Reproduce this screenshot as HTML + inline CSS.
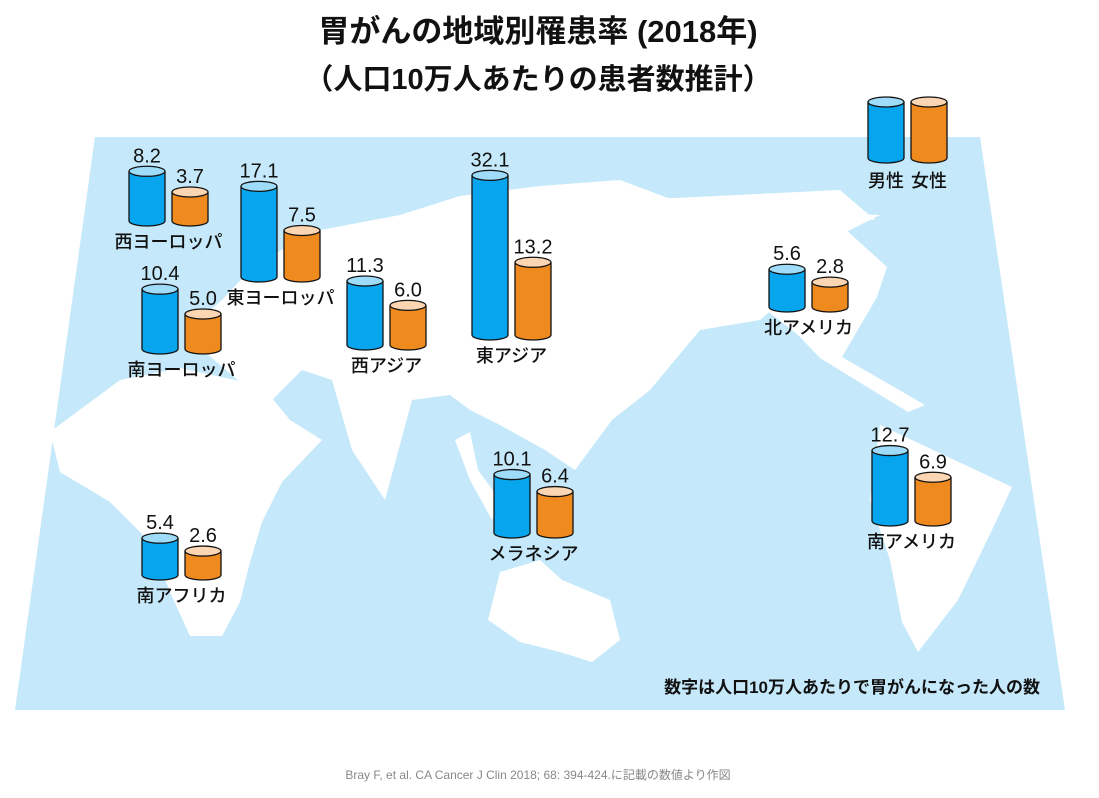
<!DOCTYPE html>
<html><head><meta charset="utf-8"><style>
html,body{margin:0;padding:0;background:#fff;}
svg{display:block;font-family:"Liberation Sans","Noto Sans CJK JP",sans-serif;}
</style></head><body>
<svg id="chart" width="1099" height="798" viewBox="0 0 1099 798" xmlns="http://www.w3.org/2000/svg">
<text x="538" y="42" text-anchor="middle" font-size="31" font-weight="bold" fill="#111">胃がんの地域別罹患率 (2018年)</text>
<text x="538" y="89" text-anchor="middle" font-size="29" font-weight="bold" fill="#111">（人口10万人あたりの患者数推計）</text>
<g>
<polygon points="95,137 980,137 1065,710 15,710" fill="#c5e9fa"/>
<polygon fill="#fff" points="250,270 310,232 400,215 460,196 540,186 620,180 700,210 780,212 880,215 830,240 805,255 795,290 760,320 700,330 650,390 612,420 575,470 545,450 500,425 470,410 450,395 412,400 385,500 352,450 332,380 302,370 272,400 240,382 205,352 188,330 222,300"/>
<polygon fill="#fff" points="633,200 840,190 875,220 833,218 887,267 877,297 842,357 925,405 908,412 820,358 798,335 760,305 738,265 718,250 648,236"/>
<polygon fill="#fff" points="880,425 1012,487 992,530 958,600 918,652 902,622 890,560 870,500"/>
<polygon fill="#fff" points="120,380 180,368 262,386 290,420 322,440 282,482 262,522 250,562 240,602 222,636 190,636 170,592 150,542 110,502 60,472 50,432"/>
<polygon fill="#fff" points="500,572 540,560 562,580 610,600 620,640 592,662 560,652 520,642 488,620"/>
<polygon fill="#fff" points="455,440 470,432 478,470 500,500 492,520 470,480"/>
</g>
<g id="bars"></g>
<g>
<path d="M868,102 v56 a18,5 0 0 0 36,0 v-56" fill="#08a5ef" stroke="#111" stroke-width="1.3"/>
<ellipse cx="886" cy="102" rx="18" ry="5" fill="#9edcfa" stroke="#111" stroke-width="1.3"/>
<path d="M911,102 v56 a18,5 0 0 0 36,0 v-56" fill="#ef8a1f" stroke="#111" stroke-width="1.3"/>
<ellipse cx="929" cy="102" rx="18" ry="5" fill="#fcd6b2" stroke="#111" stroke-width="1.3"/>
<text x="886" y="187" text-anchor="middle" font-size="18" font-weight="500" fill="#111">男性</text>
<text x="929" y="187" text-anchor="middle" font-size="18" font-weight="500" fill="#111">女性</text>
</g>
<text x="1040" y="693" text-anchor="end" font-size="17" font-weight="bold" fill="#111">数字は人口10万人あたりで胃がんになった人の数</text>
<text x="538" y="779" text-anchor="middle" font-size="12" fill="#888">Bray F, et al. CA Cancer J Clin 2018; 68: 394-424.に記載の数値より作図</text>
</svg>
<script>
const regions = ["西ヨーロッパ","東ヨーロッパ","南ヨーロッパ","西アジア","東アジア","北アメリカ","メラネシア","南アメリカ","南アフリカ"];
const maleValues = [8.2,17.1,10.4,11.3,32.1,5.6,10.1,12.7,5.4];
const femaleValues = [3.7,7.5,5.0,6.0,13.2,2.8,6.4,6.9,2.6];
const maleLabels = ["8.2","17.1","10.4","11.3","32.1","5.6","10.1","12.7","5.4"];
const femaleLabels = ["3.7","7.5","5.0","6.0","13.2","2.8","6.4","6.9","2.6"];
const anchorX = [129,241,142,347,472,769,494,872,142];
const anchorY = [221,277,349,345,335,307,533,521,575];
const W = 36, GAP = 7, RY = 5;
function hScale(v){ return 4.6*v + 12; }
const g = document.getElementById('bars');
const NS = "http://www.w3.org/2000/svg";
function cyl(x, base, v, body, top, label, name){
  const h = hScale(v);
  const p = document.createElementNS(NS,'path');
  p.setAttribute('d', `M${x},${base-h} v${h} a${W/2},${RY} 0 0 0 ${W},0 v${-h}`);
  p.setAttribute('fill', body); p.setAttribute('stroke','#111'); p.setAttribute('stroke-width','1.3');
  
  
  g.appendChild(p);
  const e = document.createElementNS(NS,'ellipse');
  e.setAttribute('cx', x+W/2); e.setAttribute('cy', base-h); e.setAttribute('rx', W/2); e.setAttribute('ry', RY);
  e.setAttribute('fill', top); e.setAttribute('stroke','#111'); e.setAttribute('stroke-width','1.3');
  
  
  g.appendChild(e);
  const t = document.createElementNS(NS,'text');
  t.setAttribute('x', x+W/2); t.setAttribute('y', base-h-9); t.setAttribute('text-anchor','middle');
  t.setAttribute('font-size','20'); t.setAttribute('fill','#111');
  t.textContent = label;
  
  
  g.appendChild(t);
}
regions.forEach((r,i)=>{
  const x = anchorX[i], b = anchorY[i];
  cyl(x, b, maleValues[i], '#08a5ef', '#9edcfa', maleLabels[i], 'bar-male-' + i);
  cyl(x+W+GAP, b, femaleValues[i], '#ef8a1f', '#fcd6b2', femaleLabels[i], 'bar-female-' + i);
  const t = document.createElementNS(NS,'text');
  t.setAttribute('x', x + W + GAP/2); t.setAttribute('y', b + 27); t.setAttribute('text-anchor','middle');
  t.setAttribute('font-size','18'); t.setAttribute('font-weight','500'); t.setAttribute('fill','#111');
  t.textContent = r;
  
  
  g.appendChild(t);
});
</script>
</body></html>
